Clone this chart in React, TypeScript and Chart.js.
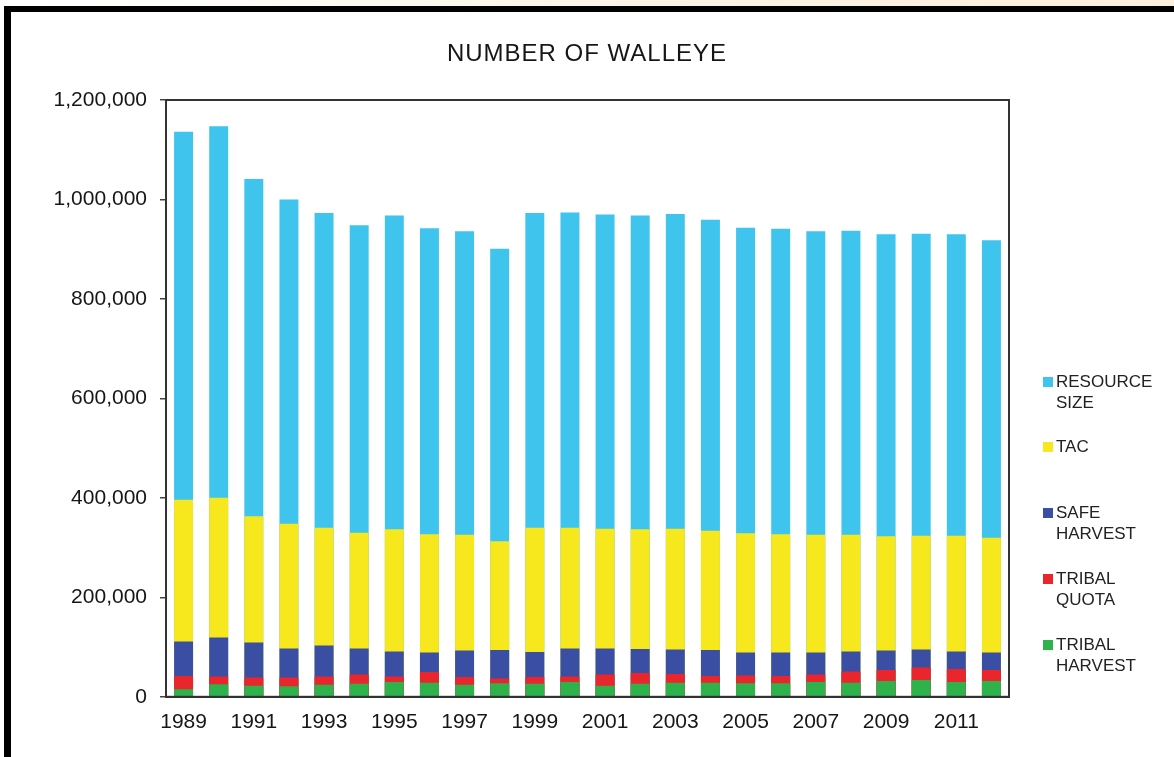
import React, { useEffect, useRef } from "react";
import { Chart, registerables } from "chart.js";

Chart.register(...registerables);

const years = [
  "1989", "1990", "1991", "1992", "1993", "1994", "1995", "1996",
  "1997", "1998", "1999", "2000", "2001", "2002", "2003", "2004",
  "2005", "2006", "2007", "2008", "2009", "2010", "2011", "2012",
];

const resourceSize = [
  1136000, 1147000, 1041000, 1000000, 973000, 948000, 968000, 942000,
  936000, 901000, 973000, 974000, 970000, 968000, 971000, 959000,
  943000, 941000, 936000, 937000, 930000, 931000, 930000, 918000,
];
const tac = [
  396000, 400000, 363000, 348000, 340000, 330000, 337000, 327000,
  326000, 313000, 340000, 340000, 338000, 337000, 338000, 334000,
  329000, 327000, 326000, 326000, 323000, 324000, 324000, 320000,
];
const safeHarvest = [
  111000, 119000, 109000, 97000, 103000, 97000, 91000, 89000,
  93000, 94000, 90000, 97000, 97000, 96000, 95000, 94000,
  89000, 89000, 89000, 91000, 93000, 95000, 91000, 89000,
];
const tribalQuota = [
  42000, 41000, 39000, 39000, 41000, 45000, 41000, 50000,
  40000, 37000, 40000, 41000, 45000, 48000, 46000, 42000,
  43000, 42000, 45000, 51000, 54000, 59000, 56000, 54000,
];
const tribalHarvest = [
  15000, 25000, 22000, 21000, 24000, 26000, 30000, 28000,
  24000, 27000, 26000, 30000, 22000, 26000, 28000, 28000,
  27000, 27000, 30000, 28000, 32000, 34000, 30000, 32000,
];

const seriesLabels = ["RESOURCE SIZE", "TAC", "SAFE HARVEST", "TRIBAL QUOTA", "TRIBAL HARVEST"];
const legendLines = [["RESOURCE", "SIZE"], ["TAC"], ["SAFE", "HARVEST"], ["TRIBAL", "QUOTA"], ["TRIBAL", "HARVEST"]];
const seriesColors = ["#3fc4ee", "#f6e81c", "#3a4fa3", "#e8262b", "#2eb24b"];

const chartTitle = "NUMBER OF WALLEYE";
const yMin = 0;
const yMax = 1200000;
const yStep = 200000;

const FONT = "'Liberation Sans', Arial, Helvetica, sans-serif";

const frameBorder = {
  id: "frameBorder",
  afterDatasetsDraw(chart: any) {
    const { ctx, chartArea } = chart;
    ctx.save();
    ctx.strokeStyle = "#333";
    ctx.lineWidth = 2;
    ctx.strokeRect(chartArea.left, chartArea.top, chartArea.right - chartArea.left, chartArea.bottom - chartArea.top);
    ctx.restore();
  },
};

export default function App() {
  const canvasRef = useRef<HTMLCanvasElement | null>(null);

  useEffect(() => {
    document.body.style.margin = "0";
    const canvas = canvasRef.current;
    if (!canvas) return;
    const allSeries = [resourceSize, tac, safeHarvest, tribalQuota, tribalHarvest];
    const chart = new Chart(canvas, {
      type: "bar",
      data: {
        labels: years,
        datasets: allSeries.map((values, i) => ({
          label: seriesLabels[i],
          data: values,
          backgroundColor: seriesColors[i],
          borderWidth: 0,
          grouped: false,
          order: allSeries.length - i,
          categoryPercentage: 1,
          barPercentage: 0.54,
        })),
      },
      options: {
        responsive: false,
        animation: false,
        maintainAspectRatio: false,
        layout: { padding: { top: 100, right: 165, left: 0, bottom: 17 } },
        plugins: {
          legend: { display: false },
          title: { display: false },
          tooltip: { enabled: false },
        },
        scales: {
          x: {
            grid: { display: false },
            border: { display: true, color: "#333", width: 2 },
            ticks: {
              autoSkip: false,
              maxRotation: 0,
              padding: 5,
              color: "#161616",
              font: { family: FONT, size: 21 },
              callback: (_v: any, i: number) => (i % 2 === 0 ? years[i] : ""),
            },
          },
          y: {
            min: yMin,
            max: yMax,
            afterFit: (scale: any) => {
              scale.width = 166;
            },
            grid: { display: true, drawOnChartArea: false, drawTicks: true, tickLength: 6, color: "#444", lineWidth: 1.5 },
            border: { display: true, color: "#333", width: 2 },
            ticks: {
              stepSize: yStep,
              padding: 13,
              color: "#161616",
              font: { family: FONT, size: 21 },
              callback: (v: any) => Number(v).toLocaleString("en-US"),
            },
          },
        },
      },
      plugins: [frameBorder],
    });
    return () => chart.destroy();
  }, []);

  return (
    <div style={{ position: "relative", width: 1174, height: 757, overflow: "hidden", background: "linear-gradient(90deg, #ffffff 0%, #fbf3e3 60%, #faf0dd 100%)" }}>
      <div
        style={{
          position: "absolute",
          left: 4,
          top: 6,
          width: 1200,
          height: 800,
          borderTop: "6px solid #000",
          borderLeft: "7px solid #000",
          background: "#fff",
        }}
      />
      <div
        style={{
          position: "absolute",
          left: 0,
          width: 1174,
          top: 40,
          textAlign: "center",
          fontFamily: FONT,
          fontSize: 24,
          letterSpacing: 1,
          color: "#161616",
          lineHeight: "26px",
          zIndex: 2,
        }}
      >
        {chartTitle}
      </div>
      <canvas ref={canvasRef} width={1174} height={757} style={{ position: "absolute", left: 0, top: 0, zIndex: 1 }} />
      <div style={{ position: "absolute", left: 1043, top: 0, zIndex: 2, fontFamily: FONT, fontSize: 17, color: "#222" }}>
        {legendLines.map((lines, i) => {
          const tops = [371, 436, 502, 568, 634];
          return (
            <div key={i} style={{ position: "absolute", top: tops[i], left: 0, width: 130, lineHeight: "21px" }}>
              <span style={{ position: "absolute", left: 0, top: 6, width: 10, height: 10, background: seriesColors[i] }} />
              <div style={{ marginLeft: 13 }}>
                {lines.map((l, j) => (
                  <div key={j}>{l}</div>
                ))}
              </div>
            </div>
          );
        })}
      </div>
    </div>
  );
}
